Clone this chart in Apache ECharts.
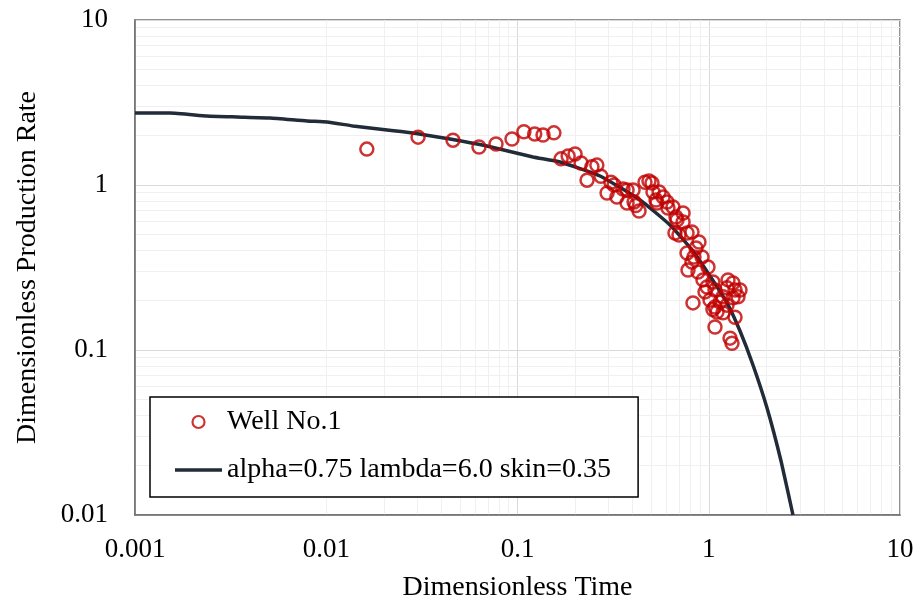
<!DOCTYPE html>
<html>
<head>
<meta charset="utf-8">
<title>Dimensionless decline curve</title>
<script src="https://cdn.jsdelivr.net/npm/echarts@6/dist/echarts.min.js"></script>
<style>
  html, body { margin: 0; padding: 0; background: #ffffff; }
  #chart { width: 918px; height: 603px; }
</style>
</head>
<body>
<div id="chart"></div>
<script>
// Measured well data (dimensionless time, dimensionless rate)
const wellTime = [
  0.0163, 0.0302, 0.046, 0.0629, 0.0772, 0.0936, 0.108, 0.123, 0.136, 0.155,
  0.169, 0.184, 0.200, 0.215, 0.231, 0.245, 0.260, 0.273, 0.294, 0.308,
  0.320, 0.331, 0.356, 0.374, 0.374, 0.402, 0.407, 0.432, 0.415, 0.464,
  0.487, 0.505, 0.511, 0.530, 0.550, 0.577, 0.536, 0.605, 0.612, 0.650,
  0.674, 0.734, 0.682, 0.734, 0.666, 0.770, 0.817, 0.699, 0.770, 0.889,
  0.858, 0.922, 0.837, 0.817, 0.991, 0.779, 0.879, 0.933, 1.052, 1.261,
  0.956, 1.078, 1.246, 1.372, 1.457, 1.187, 1.339, 1.015, 1.145, 1.422,
  0.827, 1.078, 1.246, 1.104, 1.187, 1.372, 1.078, 1.292, 1.323, 1.339,
  0.980, 1.052
];
const wellRate = [
  1.65, 1.95, 1.87, 1.70, 1.77, 1.90, 2.10, 2.04, 2.01, 2.07,
  1.44, 1.50, 1.54, 1.36, 1.07, 1.29, 1.32, 1.13, 0.894, 1.04,
  1.00, 0.846, 0.946, 0.933, 0.778, 0.933, 0.789, 0.696, 0.75, 1.04,
  1.057, 1.028, 0.907, 0.811, 0.907, 0.846, 0.778, 0.789, 0.725, 0.736,
  0.640, 0.677, 0.614, 0.597, 0.512, 0.512, 0.519, 0.498, 0.387, 0.451,
  0.415, 0.366, 0.366, 0.341, 0.318, 0.305, 0.297, 0.266, 0.258, 0.266,
  0.225, 0.231, 0.238, 0.231, 0.231, 0.210, 0.207, 0.201, 0.195, 0.210,
  0.193, 0.182, 0.187, 0.170, 0.168, 0.158, 0.138, 0.118, 0.110, 0.255,
  0.241, 0.176
];

// Type curve: alpha=0.75 lambda=6.0 skin=0.35
const curveTime = [
  0.001, 0.00152, 0.00238, 0.00342, 0.00508, 0.00793, 0.0101, 0.0138, 0.0208,
  0.0284, 0.0444, 0.0692, 0.1205, 0.1668, 0.2701, 0.437, 0.627, 0.827, 1.015,
  1.2455, 1.457, 1.703, 2.017, 2.387, 2.757
];
const curveRate = [
  2.732, 2.732, 2.619, 2.583, 2.547, 2.443, 2.409, 2.279, 2.154,
  2.067, 1.900, 1.723, 1.478, 1.378, 1.134, 0.811, 0.5725, 0.398, 0.281,
  0.193, 0.1303, 0.0811, 0.0445, 0.02125, 0.0100
];

const xTickLabels = ['0.001', '0.01', '0.1', '1', '10'];
const yTickLabels = ['0.01', '0.1', '1', '10'];
const xDecades = [0.001, 0.01, 0.1, 1];
const yDecades = [0.01, 0.1, 1];

const seriesNames = ['Well No.1', 'alpha=0.75 lambda=6.0 skin=0.35'];
const axisNames = ['Dimensionless Time', 'Dimensionless Production Rate'];

const RED = '#c00000';
const NAVY = '#222b38';
const CLEAR = 'rgba(255,255,255,0)';

// minor grid values (2..9 within each decade)
const minorX = [];
xDecades.forEach(d => { for (let k = 2; k <= 9; k++) minorX.push(+(d * k).toPrecision(3)); });
const minorY = [];
yDecades.forEach(d => { for (let k = 2; k <= 9; k++) minorY.push(+(d * k).toPrecision(3)); });

const FONT = '"Liberation Serif", "Times New Roman", serif';

function fmt(labels, minVal) {
  return v => labels[Math.round(Math.log10(v / minVal))] || '';
}

// legend icon for the curve: a thick bar centred in a 47x12 box
const lineIcon = 'path://M0,0L0.01,0L0.01,0.01Z M0,4.3L47,4.3L47,7.7L0,7.7Z M46.99,12L47,12L47,11.99Z';

const chart = echarts.init(document.getElementById('chart'), null, { renderer: 'canvas' });

chart.setOption({
  animation: false,
  backgroundColor: '#ffffff',
  grid: {
    left: 135, right: 18, top: 20, bottom: 88,
    containLabel: false,
    outerBoundsMode: 'none',
    show: true, borderColor: '#6e6e6e', borderWidth: 1.5,
    backgroundColor: 'transparent'
  },
  xAxis: {
    type: 'log', logBase: 10, min: 0.001, max: 10,
    name: axisNames[0], nameLocation: 'middle', nameGap: 59,
    nameTextStyle: { fontFamily: FONT, fontSize: 28, color: '#000' },
    axisLine: { show: true, lineStyle: { color: '#6e6e6e', width: 1.5 } },
    axisTick: { show: false },
    axisLabel: { fontFamily: FONT, fontSize: 27, color: '#000', margin: 21, formatter: fmt(xTickLabels, 0.001) },
    splitLine: { show: true, lineStyle: { color: '#d9d9d9', width: 1 } }
  },
  yAxis: {
    type: 'log', logBase: 10, min: 0.01, max: 10,
    name: axisNames[1], nameLocation: 'middle', nameGap: 93,
    nameTextStyle: { fontFamily: FONT, fontSize: 28, color: '#000' },
    axisLine: { show: true, lineStyle: { color: '#6e6e6e', width: 1.5 } },
    axisTick: { show: false },
    axisLabel: { fontFamily: FONT, fontSize: 27, color: '#000', margin: 27, formatter: fmt(yTickLabels, 0.01) },
    splitLine: { show: true, lineStyle: { color: '#d9d9d9', width: 1 } }
  },
  legend: {
    orient: 'vertical',
    left: 150, top: 397,
    padding: [11, 27, 13, 25],
    itemGap: 20,
    itemWidth: 47, itemHeight: 12,
    itemTextGap: 3,
    backgroundColor: '#ffffff',
    borderColor: '#000000', borderWidth: 1.5,
    textStyle: { fontFamily: FONT, fontSize: 28, color: '#000' },
    data: [
      { name: seriesNames[0], icon: 'circle', itemStyle: { color: CLEAR, borderColor: RED, borderWidth: 2.2 } },
      { name: seriesNames[1], icon: lineIcon, itemStyle: { color: NAVY, borderWidth: 0 } }
    ]
  },
  series: [
    {
      // minor grid lines
      name: 'minor-grid',
      type: 'line',
      data: [],
      silent: true,
      z: 0,
      markLine: {
        silent: true,
        symbol: ['none', 'none'],
        label: { show: false },
        z: 0,
        animation: false,
        lineStyle: { color: '#f0f0f0', width: 1, type: 'solid' },
        data: minorX.map(v => ({ xAxis: v })).concat(minorY.map(v => ({ yAxis: v })))
      }
    },
    {
      name: seriesNames[1],
      type: 'line',
      data: curveTime.map((t, i) => [t, curveRate[i]]),
      showSymbol: false,
      symbol: 'none',
      smooth: 0.15,
      clip: true,
      z: 3,
      lineStyle: { color: NAVY, width: 3.5 },
      itemStyle: { color: NAVY }
    },
    {
      name: seriesNames[0],
      type: 'scatter',
      data: wellTime.map((t, i) => [t, wellRate[i]]),
      symbol: 'circle',
      symbolSize: 13,
      z: 4,
      itemStyle: { color: CLEAR, borderColor: RED, borderWidth: 2.5 }
    }
  ]
});
</script>
</body>
</html>
